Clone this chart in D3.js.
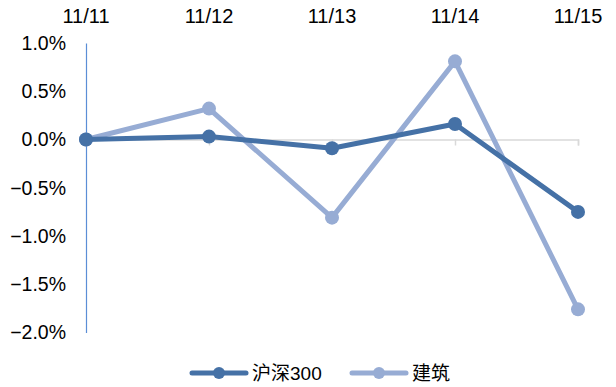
<!DOCTYPE html>
<html>
<head>
<meta charset="utf-8">
<script src="https://cdn.jsdelivr.net/npm/d3@7"></script>
<style>
  html, body { margin: 0; padding: 0; background: #fff; }
  svg { display: block; font-family: "Liberation Sans", Arial, sans-serif; }
</style>
</head>
<body>
<svg id="chart" width="616" height="387"></svg>
<script>
// Daily returns, in percent
const dates = ["11/11", "11/12", "11/13", "11/14", "11/15"];
const hs300 = [0.00, 0.03, -0.09, 0.16, -0.75];
const construction = [0.00, 0.32, -0.81, 0.81, -1.76];
const yTicks = [1.0, 0.5, 0.0, -0.5, -1.0, -1.5, -2.0];

const seriesNames = ["沪深300", "建筑"];
const seriesColors = ["#4571a6", "#97acd4"];

const svg = d3.select("#chart");

const x = d3.scalePoint().domain(dates).range([86, 578]);
const y = d3.scaleLinear().domain([-2, 1]).range([332.5, 43]);

// Category axis along the zero line, ticks pointing down
const xAxis = svg.append("g").attr("transform", `translate(0,${y(0)})`)
  .call(d3.axisBottom(x).tickSize(6).tickFormat(""));
xAxis.select(".domain").attr("stroke", "#d9d9d9").attr("stroke-width", 1.5);
xAxis.selectAll(".tick line").attr("stroke", "#d9d9d9").attr("stroke-width", 1.5);

// Category labels along the top
svg.append("g").selectAll("text").data(dates).join("text")
  .attr("x", d => x(d)).attr("y", 23)
  .attr("text-anchor", "middle").attr("font-size", 20).attr("fill", "#000")
  .text(d => d);

// Value axis
const yAxis = svg.append("g").attr("transform", "translate(86,0)")
  .call(d3.axisLeft(y).tickValues(yTicks).tickSize(0).tickPadding(20)
    .tickFormat(d => d3.format(".1f")(d) + "%"));
yAxis.select(".domain").attr("stroke", "#5b8ed6").attr("stroke-width", 1.2);
yAxis.selectAll(".tick text").attr("font-size", 19.5).attr("fill", "#000")
  .attr("font-family", "'Liberation Sans', Arial, sans-serif");

const line = d3.line().x((d, i) => x(dates[i])).y(d => y(d));

const series = [construction, hs300];
const colors = [seriesColors[1], seriesColors[0]];
series.forEach((vals, k) => {
  const g = svg.append("g");
  g.append("path").datum(vals)
    .attr("d", line).attr("fill", "none")
    .attr("stroke", colors[k]).attr("stroke-width", 5)
    .attr("stroke-linejoin", "round");
  g.selectAll("circle").data(vals).join("circle")
    .attr("cx", (d, i) => x(dates[i])).attr("cy", d => y(d))
    .attr("r", 7).attr("fill", colors[k]);
});

// Legend
const legend = svg.append("g");
const legendX = [192, 352];
seriesNames.forEach((name, i) => {
  const lg = legend.append("g").attr("transform", `translate(${legendX[i]},373)`);
  lg.append("line").attr("x1", 0).attr("x2", 54).attr("y1", 0).attr("y2", 0)
    .attr("stroke", seriesColors[i]).attr("stroke-width", 5).attr("stroke-linecap", "round");
  lg.append("circle").attr("cx", 27).attr("cy", 0).attr("r", 6).attr("fill", seriesColors[i]);
  lg.append("text").attr("x", 60).attr("y", 7).attr("font-size", 19).attr("fill", "#000")
    .attr("font-family", "'Liberation Sans', 'Noto Sans CJK SC', sans-serif")
    .text(name);
});
</script>
</body>
</html>
